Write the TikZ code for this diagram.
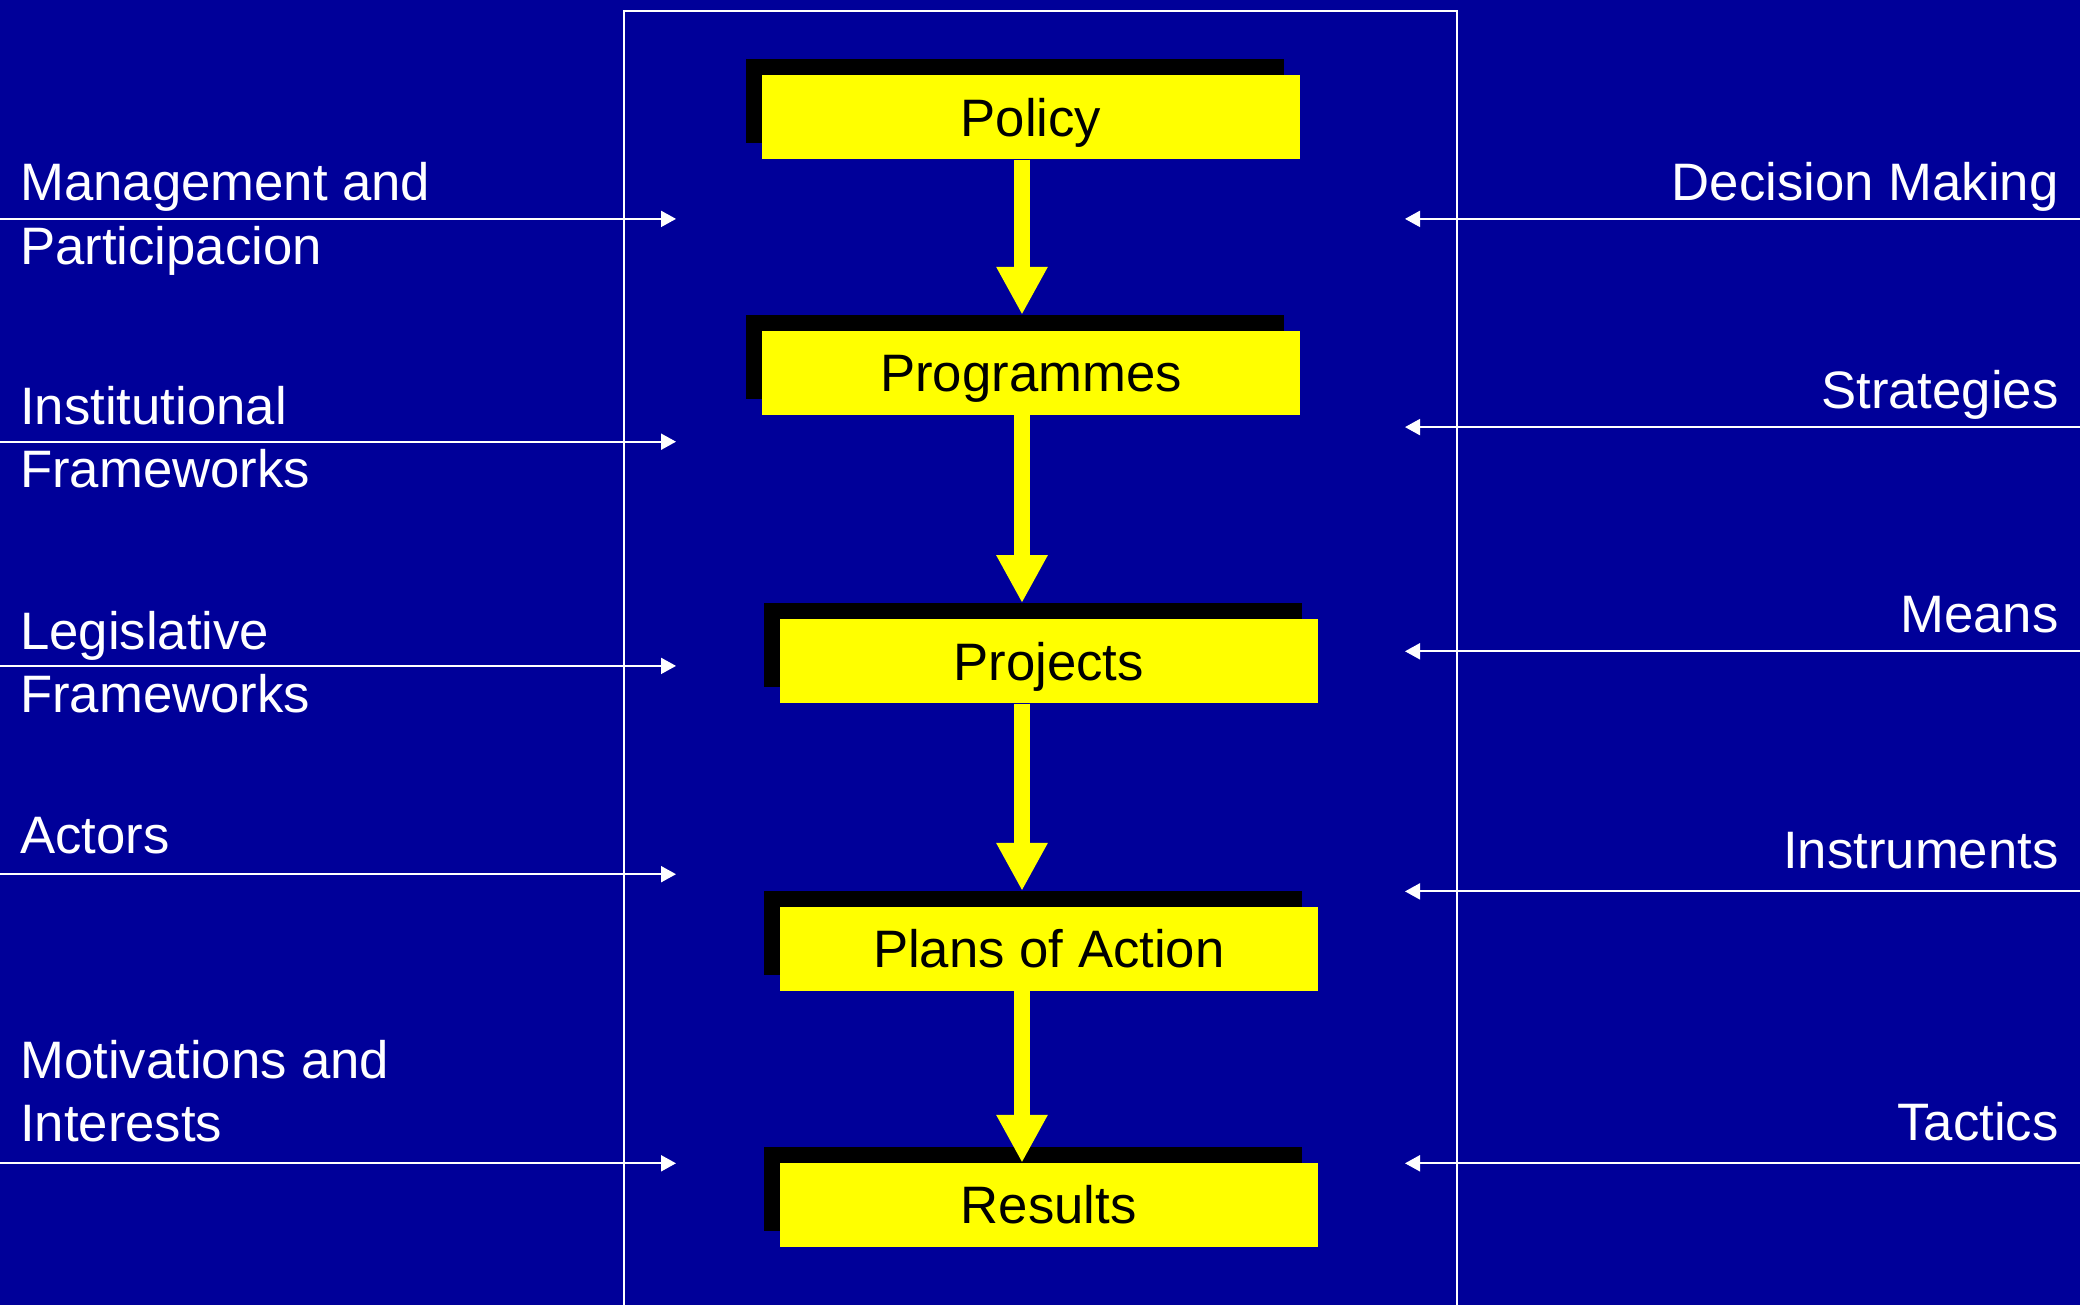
\documentclass[tikz,border=0pt]{standalone}
\usepackage{fontspec}
\setmainfont{Liberation Sans}
\usetikzlibrary{arrows.meta,shadows}
\definecolor{bgblue}{RGB}{0,0,153}
\definecolor{boxyellow}{RGB}{255,255,0}
\begin{document}
\begin{tikzpicture}[x=1pt,y=-1pt,
  stagebox/.style={fill=boxyellow, draw=none, minimum width=538pt, minimum height=84pt,
    inner sep=0pt, text height=37.7pt, text depth=0pt, text=black,
    font=\fontsize{52.7}{63.3}\selectfont,
    general shadow={fill=black, shadow xshift=-16pt, shadow yshift=16pt}},
  flow/.style={draw=boxyellow, line width=16pt, -{Triangle[length=48pt,width=48pt]}},
  feed/.style={draw=white, line width=2pt, -{Triangle[length=15pt,width=16pt]}},
  lab/.style={text=white, inner sep=0pt, font=\fontsize{52.7}{63.3}\selectfont, align=left, anchor=base west},
  rlab/.style={text=white, inner sep=0pt, font=\fontsize{52.7}{63.3}\selectfont, anchor=base east},
  frame/.style={draw=white, line width=2pt}
]
\useasboundingbox (0,0) rectangle (2080,1305);
\fill[bgblue] (0,0) rectangle (2080,1305);

% frame
\draw[frame] (623.5,1310) -- (623.5,10.6) -- (1456.5,10.6) -- (1456.5,1310);

% stage boxes
\node[stagebox] (policy) at (1031,117.4) {Policy};
\node[stagebox] (prog) at (1031,373) {Programmes};
\node[stagebox] (proj) at (1048.8,661.3) {Projects};
\node[stagebox] (plans) at (1048.8,949.1) {Plans of Action};
\node[stagebox] (results) at (1048.8,1205) {Results};

% flow arrows
\coordinate (ax) at (1022,0);
\draw[flow] (policy.south -| ax) -- ([yshift=16pt]prog.north -| ax);
\draw[flow] (prog.south -| ax) -- ([yshift=16pt]proj.north -| ax);
\draw[flow] (proj.south -| ax) -- ([yshift=16pt]plans.north -| ax);
\draw[flow] (plans.south -| ax) -- (results.north -| ax);

% left labels (anchor = baseline of last line)
\node[lab] (mgmt) at (20,264.3) {Management and\\Participacion};
\node[lab] (inst) at (20,487.6) {Institutional\\Frameworks};
\node[lab] (legis) at (20,712.8) {Legislative\\Frameworks};
\node[lab] (actors) at (20,853.5) {Actors};
\node[lab] (motiv) at (20,1141.6) {Motivations and\\Interests};

% left feed arrows
\coordinate (ls1) at (0,218.9);   \coordinate (le1) at (676,218.9);
\coordinate (ls2) at (0,441.7);   \coordinate (le2) at (676,441.7);
\coordinate (ls3) at (0,665.9);   \coordinate (le3) at (676,665.9);
\coordinate (ls4) at (0,874.2);   \coordinate (le4) at (676,874.2);
\coordinate (ls5) at (0,1163.3);  \coordinate (le5) at (676,1163.3);
\draw[feed] (ls1) -- (le1);
\draw[feed] (ls2) -- (le2);
\draw[feed] (ls3) -- (le3);
\draw[feed] (ls4) -- (le4);
\draw[feed] (ls5) -- (le5);

% right labels
\node[rlab] (decision) at (2058.7,201) {Decision Making};
\node[rlab] (strat) at (2058.7,408.4) {Strategies};
\node[rlab] (means) at (2058.7,632.5) {Means};
\node[rlab] (instr) at (2058.7,868.6) {Instruments};
\node[rlab] (tactics) at (2058.7,1140.5) {Tactics};

% right feed arrows
\coordinate (rs1) at (2080,218.9);  \coordinate (re1) at (1405,218.9);
\coordinate (rs2) at (2080,427.1);  \coordinate (re2) at (1405,427.1);
\coordinate (rs3) at (2080,651.3);  \coordinate (re3) at (1405,651.3);
\coordinate (rs4) at (2080,891.4);  \coordinate (re4) at (1405,891.4);
\coordinate (rs5) at (2080,1163.3); \coordinate (re5) at (1405,1163.3);
\draw[feed] (rs1) -- (re1);
\draw[feed] (rs2) -- (re2);
\draw[feed] (rs3) -- (re3);
\draw[feed] (rs4) -- (re4);
\draw[feed] (rs5) -- (re5);
\end{tikzpicture}
\end{document}
